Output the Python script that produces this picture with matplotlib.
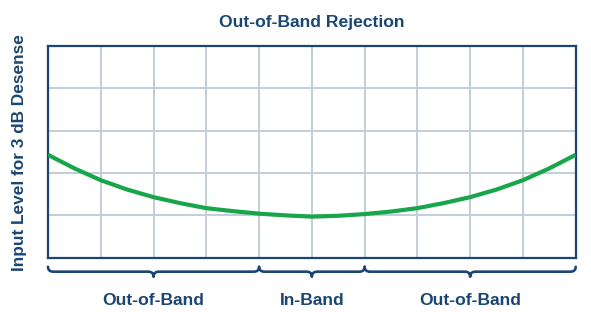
import matplotlib
matplotlib.use("Agg")
import matplotlib.pyplot as plt
from matplotlib.path import Path
from matplotlib.patches import PathPatch
import matplotlib.transforms as mtransforms

plt.rcParams['font.family'] = ['Liberation Sans', 'DejaVu Sans']

# Data
x_vals = [0, 0.5, 1, 1.5, 2, 2.5, 3, 3.5, 4, 4.5, 5, 5.5, 6, 6.5, 7, 7.5, 8, 8.5, 9, 9.5, 10]
y_vals = [2.43, 2.11, 1.83, 1.61, 1.43, 1.29, 1.17, 1.10, 1.04, 1.00, 0.97, 0.99, 1.03,
          1.09, 1.17, 1.29, 1.43, 1.61, 1.83, 2.11, 2.43]
band_labels = ["Out-of-Band", "In-Band", "Out-of-Band"]
band_edges = [0, 4, 6, 10]
title = "Out-of-Band Rejection"
ylabel = "Input Level for 3 dB Desense"

DARK = "#1b4672"
GRID = "#c2cddb"
GREEN = "#18a64a"

fig = plt.figure(figsize=(5.91, 3.22), dpi=100)
ax = fig.add_axes([48/591, 1 - 257.7/322, (575.7-48)/591, (257.7-46)/322])
ax.set_xlim(0, 10)
ax.set_ylim(0, 5)
ax.set_xticks(range(1, 10))
ax.set_yticks(range(1, 5))
ax.tick_params(length=0, labelbottom=False, labelleft=False)
ax.grid(True, color=GRID, linewidth=1.4)
ax.set_axisbelow(True)
for s in ax.spines.values():
    s.set_color(DARK)
    s.set_linewidth(1.6)

ax.plot(x_vals, y_vals, color=GREEN, linewidth=3.0, solid_capstyle='butt', zorder=3)

# Braces
trans = mtransforms.blended_transform_factory(ax.transData, ax.transAxes)
base, yend, tip = -0.066, -0.043, -0.090
r = 0.1
for i in range(3):
    a, b = band_edges[i], band_edges[i+1]
    m = (a + b) / 2
    verts = [(a, yend), (a, base), (a + r, base),
             (m - r, base), (m, base), (m, tip),
             (m, base), (m + r, base),
             (b - r, base), (b, base), (b, yend)]
    codes = [Path.MOVETO, Path.CURVE3, Path.CURVE3,
             Path.LINETO, Path.CURVE3, Path.CURVE3,
             Path.CURVE3, Path.CURVE3,
             Path.LINETO, Path.CURVE3, Path.CURVE3]
    patch = PathPatch(Path(verts, codes), facecolor='none', edgecolor=DARK,
                      linewidth=1.9, transform=trans, clip_on=False,
                      capstyle='round', joinstyle='round')
    ax.add_patch(patch)
    ax.text(m, -0.20, band_labels[i], transform=trans, ha='center', va='center',
            fontsize=12.6, fontweight='bold', color=DARK)

fig.text(312/591, 1 - 22/322, title, ha='center', va='center',
         fontsize=12.6, fontweight='bold', color=DARK)
fig.text(19.7/591, 1 - 152.5/322, ylabel, ha='center', va='center', rotation=90,
         fontsize=12.4, fontweight='bold', color=DARK)

fig.savefig("out.png", dpi=100)
